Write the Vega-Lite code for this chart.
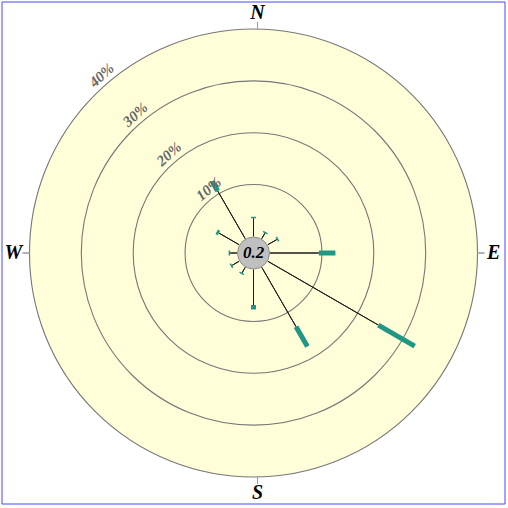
{
  "$schema": "https://vega.github.io/schema/vega-lite/v6.json",
  "width": 508,
  "height": 508,
  "autosize": {"type": "fit", "contains": "padding"},
  "padding": {"left": 1, "top": 1, "right": 2, "bottom": 3},
  "background": "white",
  "config": {"view": {"stroke": "#4646ff", "strokeWidth": 1}},
  "datasets": {
    "rose": [
      {"dir": 0, "a": 3.5, "b": 3.8},
      {"dir": 30, "a": 1.2, "b": 1.5},
      {"dir": 60, "a": 2.0, "b": 2.3},
      {"dir": 90, "a": 9.4, "b": 12.6},
      {"dir": 120, "a": 24.6, "b": 32.7},
      {"dir": 150, "a": 13.2, "b": 17.6},
      {"dir": 180, "a": 6.85, "b": 7.7},
      {"dir": 210, "a": 1.2, "b": 1.5},
      {"dir": 240, "a": 1.55, "b": 1.85},
      {"dir": 270, "a": 1.3, "b": 1.6},
      {"dir": 300, "a": 4.5, "b": 5.0},
      {"dir": 330, "a": 10.6, "b": 12.8}
    ],
    "rings": [
      {"pct": 10, "label": "10%"},
      {"pct": 20, "label": "20%"},
      {"pct": 30, "label": "30%"},
      {"pct": 40, "label": "40%"}
    ],
    "compass": [
      {"dir": 0, "label": "N"},
      {"dir": 90, "label": "E"},
      {"dir": 180, "label": "S"},
      {"dir": 270, "label": "W"}
    ],
    "calm": [{"calm": 0.2}]
  },
  "layer": [
    {
      "data": {"name": "calm"},
      "mark": {"type": "arc", "theta": 0, "theta2": 6.2832, "fill": "#FFFED9", "stroke": null},
      "encoding": {
        "radius": {"datum": 40, "type": "quantitative", "stack": null, "scale": {"type": "linear", "zero": false, "domain": [-3.2, 40], "range": [0, 224]}},
        "radius2": {"datum": -3.2}
      }
    },
    {
      "data": {"name": "rings"},
      "mark": {"type": "arc", "theta": 0, "theta2": 6.2832, "filled": false, "stroke": "#777777", "strokeWidth": 1.1},
      "encoding": {
        "radius": {"field": "pct", "type": "quantitative", "stack": null, "scale": {"type": "linear", "zero": false, "domain": [-3.2, 40], "range": [0, 224]}},
        "radius2": {"datum": -3.2}
      }
    },
    {
      "data": {"name": "compass"},
      "transform": [{"filter": "datum.dir == 90 || datum.dir == 270"}],
      "mark": {"type": "arc", "filled": false, "stroke": "#999999", "strokeWidth": 1},
      "encoding": {
        "theta": {"field": "dir", "type": "quantitative", "stack": null, "scale": {"type": "linear", "zero": false, "domain": [0, 360], "range": [0, 6.283185307179586]}},
        "theta2": {"field": "dir"},
        "radius": {"datum": 41.35, "type": "quantitative", "stack": null, "scale": {"type": "linear", "zero": false, "domain": [-3.2, 40], "range": [0, 224]}},
        "radius2": {"datum": 39.9}
      }
    },
    {
      "data": {"name": "compass"},
      "transform": [{"filter": "datum.dir == 0 || datum.dir == 180"}],
      "mark": {"type": "arc", "filled": false, "stroke": "#999999", "strokeWidth": 1, "xOffset": 4},
      "encoding": {
        "theta": {"field": "dir", "type": "quantitative", "stack": null, "scale": {"type": "linear", "zero": false, "domain": [0, 360], "range": [0, 6.283185307179586]}},
        "theta2": {"field": "dir"},
        "radius": {"datum": 41.35, "type": "quantitative", "stack": null, "scale": {"type": "linear", "zero": false, "domain": [-3.2, 40], "range": [0, 224]}},
        "radius2": {"datum": 39.9}
      }
    },
    {
      "data": {"name": "rose"},
      "mark": {"type": "arc", "filled": false, "stroke": "#1a1a1a", "strokeWidth": 1},
      "encoding": {
        "theta": {"field": "dir", "type": "quantitative", "stack": null, "scale": {"type": "linear", "zero": false, "domain": [0, 360], "range": [0, 6.283185307179586]}},
        "theta2": {"field": "dir"},
        "radius": {"field": "a", "type": "quantitative", "stack": null, "scale": {"type": "linear", "zero": false, "domain": [-3.2, 40], "range": [0, 224]}},
        "radius2": {"datum": 0}
      }
    },
    {
      "data": {"name": "rose"},
      "mark": {"type": "arc", "filled": false, "stroke": "#1f9784", "strokeWidth": 5, "strokeJoin": "bevel"},
      "encoding": {
        "theta": {"field": "dir", "type": "quantitative", "stack": null, "scale": {"type": "linear", "zero": false, "domain": [0, 360], "range": [0, 6.283185307179586]}},
        "theta2": {"field": "dir"},
        "radius": {"field": "b", "type": "quantitative", "stack": null, "scale": {"type": "linear", "zero": false, "domain": [-3.2, 40], "range": [0, 224]}},
        "radius2": {"field": "a"}
      }
    },
    {
      "data": {"name": "calm"},
      "mark": {"type": "arc", "theta": 0, "theta2": 6.2832, "fill": "#c0c0c0", "stroke": "#8c8c8c", "strokeWidth": 1},
      "encoding": {
        "radius": {"datum": -0.12, "type": "quantitative", "stack": null, "scale": {"type": "linear", "zero": false, "domain": [-3.2, 40], "range": [0, 224]}},
        "radius2": {"datum": -3.2}
      }
    },
    {
      "data": {"name": "calm"},
      "mark": {"type": "text", "font": "Liberation Serif", "fontStyle": "italic", "fontWeight": "bold", "fontSize": 17, "color": "black", "align": "center", "baseline": "middle"},
      "encoding": {
        "theta": {"datum": 0, "type": "quantitative", "stack": null, "scale": {"type": "linear", "zero": false, "domain": [0, 360], "range": [0, 6.283185307179586]}},
        "radius": {"datum": -3.2, "type": "quantitative", "stack": null, "scale": {"type": "linear", "zero": false, "domain": [-3.2, 40], "range": [0, 224]}},
        "text": {"field": "calm", "type": "quantitative", "format": ".1f"}
      }
    },
    {
      "data": {"name": "rings"},
      "transform": [{"filter": "datum.pct > 10"}],
      "mark": {"type": "text", "font": "Liberation Serif", "fontStyle": "italic", "fontWeight": "bold", "fontSize": 15, "color": "#666666", "align": "center", "baseline": "middle", "angle": 318, "radiusOffset": 10},
      "encoding": {
        "theta": {"datum": 319.5, "type": "quantitative", "stack": null, "scale": {"type": "linear", "zero": false, "domain": [0, 360], "range": [0, 6.283185307179586]}},
        "radius": {"field": "pct", "type": "quantitative", "stack": null, "scale": {"type": "linear", "zero": false, "domain": [-3.2, 40], "range": [0, 224]}},
        "text": {"field": "label"}
      }
    },
    {
      "data": {"name": "rings"},
      "transform": [{"filter": "datum.pct == 10"}],
      "mark": {"type": "text", "font": "Liberation Serif", "fontStyle": "italic", "fontWeight": "bold", "fontSize": 15, "color": "#666666", "align": "center", "baseline": "middle", "angle": 320, "radiusOffset": 10},
      "encoding": {
        "theta": {"datum": 325, "type": "quantitative", "stack": null, "scale": {"type": "linear", "zero": false, "domain": [0, 360], "range": [0, 6.283185307179586]}},
        "radius": {"field": "pct", "type": "quantitative", "stack": null, "scale": {"type": "linear", "zero": false, "domain": [-3.2, 40], "range": [0, 224]}},
        "text": {"field": "label"}
      }
    },
    {
      "data": {"name": "compass"},
      "transform": [{"filter": "datum.dir == 0 || datum.dir == 180"}],
      "mark": {"type": "text", "font": "Liberation Serif", "fontStyle": "italic", "fontWeight": "bold", "fontSize": 20, "color": "black", "align": "center", "baseline": "middle", "dx": 4},
      "encoding": {
        "theta": {"field": "dir", "type": "quantitative", "stack": null, "scale": {"type": "linear", "zero": false, "domain": [0, 360], "range": [0, 6.283185307179586]}},
        "radius": {"datum": 43.1, "type": "quantitative", "stack": null, "scale": {"type": "linear", "zero": false, "domain": [-3.2, 40], "range": [0, 224]}},
        "text": {"field": "label"}
      }
    },
    {
      "data": {"name": "compass"},
      "transform": [{"filter": "datum.dir == 90 || datum.dir == 270"}],
      "mark": {"type": "text", "font": "Liberation Serif", "fontStyle": "italic", "fontWeight": "bold", "fontSize": 20, "color": "black", "align": "center", "baseline": "middle"},
      "encoding": {
        "theta": {"field": "dir", "type": "quantitative", "stack": null, "scale": {"type": "linear", "zero": false, "domain": [0, 360], "range": [0, 6.283185307179586]}},
        "radius": {"datum": 43.1, "type": "quantitative", "stack": null, "scale": {"type": "linear", "zero": false, "domain": [-3.2, 40], "range": [0, 224]}},
        "text": {"field": "label"}
      }
    },
    {
      "data": {"name": "calm"},
      "mark": {"type": "rect", "fill": null, "filled": false, "stroke": "#4646ff", "strokeWidth": 1},
      "encoding": {}
    }
  ]
}
